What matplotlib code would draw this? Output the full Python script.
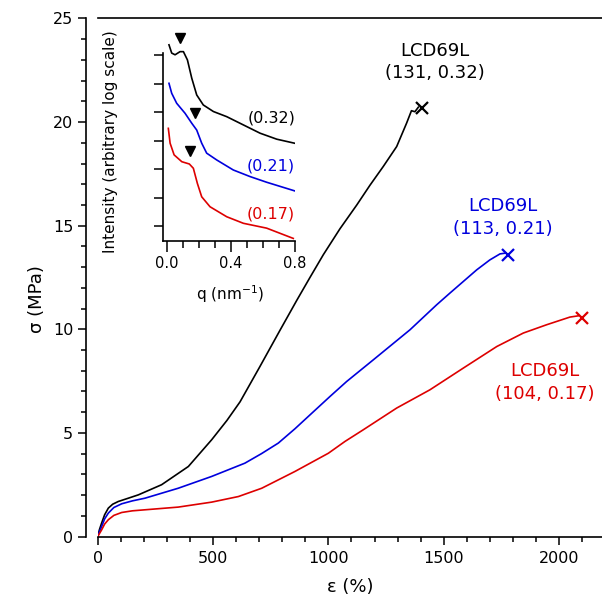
import matplotlib
matplotlib.use('Agg')
import matplotlib.pyplot as plt
from matplotlib.ticker import MultipleLocator

# stress-strain curves (strain in %, stress in MPa)
black_strain = [0, 8, 17, 30, 46, 65, 89, 130, 176, 277, 393, 494, 560, 617, 703, 790, 863, 920,
                978, 1050, 1123, 1180, 1238, 1296, 1339, 1360, 1375, 1390]
black_stress = [0, 0.35, 0.65, 1.05, 1.37, 1.56, 1.69, 1.84, 2.01, 2.50, 3.38, 4.67, 5.6, 6.5, 8.2,
                9.95, 11.4, 12.5, 13.6, 14.85, 16.0, 16.95, 17.86, 18.82, 19.95, 20.55, 20.50, 20.72]
blue_strain = [0, 8, 17, 30, 46, 70, 104, 150, 205, 349, 494, 638, 710, 783, 855, 928, 1007, 1079,
               1195, 1354, 1469, 1527, 1585, 1643, 1700, 1744, 1770]
blue_stress = [0, 0.25, 0.48, 0.85, 1.13, 1.40, 1.58, 1.72, 1.85, 2.33, 2.90, 3.54, 4.0, 4.51, 5.2,
               5.95, 6.76, 7.48, 8.53, 9.98, 11.18, 11.75, 12.31, 12.87, 13.35, 13.64, 13.68]
red_strain = [0, 8, 17, 30, 46, 70, 104, 150, 205, 349, 494, 610, 711, 855, 1000, 1072, 1151,
              1296, 1440, 1585, 1730, 1845, 1946, 2047, 2083]
red_stress = [0, 0.15, 0.32, 0.60, 0.81, 1.02, 1.16, 1.24, 1.29, 1.42, 1.66, 1.93, 2.33, 3.14,
              4.02, 4.59, 5.15, 6.20, 7.08, 8.13, 9.17, 9.82, 10.22, 10.59, 10.65]

# break points (x markers)
break_strain = [1404, 1780, 2100]
break_stress = [20.69, 13.6, 10.54]

labels = ['LCD69L\n(131, 0.32)', 'LCD69L\n(113, 0.21)', 'LCD69L\n(104, 0.17)']
label_x = [1461, 1756, 1938]
label_y = [22.9, 15.4, 7.45]

# inset SAXS profiles (log intensity, arbitrary offsets)
q_black = [0.014, 0.031, 0.052, 0.083, 0.104, 0.129, 0.156, 0.187, 0.228, 0.291, 0.374, 0.478,
           0.582, 0.686, 0.796]
i_black = [6.87, 6.58, 6.52, 6.63, 6.63, 6.34, 5.70, 5.11, 4.76, 4.53, 4.35, 4.06, 3.77, 3.56, 3.42]
q_blue = [0.014, 0.031, 0.062, 0.114, 0.156, 0.187, 0.218, 0.249, 0.312, 0.415, 0.519, 0.623, 0.796]
i_blue = [5.52, 5.17, 4.82, 4.47, 4.12, 3.88, 3.42, 3.07, 2.83, 2.48, 2.25, 2.05, 1.75]
q_red = [0.010, 0.021, 0.046, 0.094, 0.141, 0.166, 0.191, 0.218, 0.270, 0.374, 0.478, 0.623, 0.789]
i_red = [3.94, 3.42, 3.01, 2.77, 2.69, 2.54, 2.01, 1.54, 1.19, 0.84, 0.61, 0.44, 0.08]

peak_q = [0.083, 0.176, 0.145]
peak_i = [7.10, 4.47, 3.16]
inset_labels = ['(0.32)', '(0.21)', '(0.17)']
inset_label_y = [4.3, 2.62, 0.93]

colors = ['black', '#0000dd', '#dd0000']

fig = plt.figure(figsize=(6.02, 5.98), dpi=100)
ax = fig.add_axes([0.1623, 0.1028, 0.8377, 0.8663])

curves = [(black_strain, black_stress), (blue_strain, blue_stress), (red_strain, red_stress)]
for (x, y), c in zip(curves, colors):
    ax.plot(x, y, color=c, lw=1.2)
for i, c in enumerate(colors):
    ax.plot(break_strain[i], break_stress[i], 'x', color=c, ms=9, mew=1.6)
    ax.text(label_x[i], label_y[i], labels[i], color=c, fontsize=13, ha='center', va='center',
            linespacing=1.35)

ax.set_xlim(0, 2186)
ax.set_ylim(0, 25)
ax.xaxis.set_major_locator(MultipleLocator(500))
ax.xaxis.set_minor_locator(MultipleLocator(100))
ax.yaxis.set_major_locator(MultipleLocator(5))
ax.yaxis.set_minor_locator(MultipleLocator(1))
ax.tick_params(which='major', length=5.5, width=1.1, labelsize=11.5)
ax.tick_params(which='minor', length=3.5, width=1.1)
ax.tick_params(axis='x', pad=5)
ax.spines['right'].set_visible(False)
ax.spines['left'].set_position(('outward', 8.6))
for s in ['left', 'top', 'bottom']:
    ax.spines[s].set_linewidth(1.2)
ax.set_xlabel('ε (%)', fontsize=13)
ax.set_ylabel('σ (MPa)', fontsize=13)
ax.yaxis.set_label_coords(46 / 602, 1 - 299 / 598, transform=fig.transFigure)
ax.xaxis.set_label_coords(350 / 602, 1 - 578 / 598, transform=fig.transFigure)

# inset
ins = fig.add_axes([0.2703, 0.5975, 0.2198, 0.3557])
for q, inten, c in zip([q_black, q_blue, q_red], [i_black, i_blue, i_red], colors):
    ins.plot(q, inten, color=c, lw=1.2)
ins.plot(peak_q, peak_i, 'v', color='black', ms=7)
for lab, yy, c in zip(inset_labels, inset_label_y, colors):
    ins.text(0.8, yy, lab, color=c, fontsize=11.5, ha='right', va='center')
ins.set_xlim(-0.025, 0.8)
ins.set_ylim(0, 7.46)
ins.set_xticks([0.0, 0.4, 0.8])
ins.set_xticklabels(['0.0', '0.4', '0.8'])
ins.xaxis.set_minor_locator(MultipleLocator(0.1))
ins.set_yticks([0.5, 1.5, 2.5, 3.5, 4.5, 5.5, 6.5])
ins.set_yticklabels([])
ins.tick_params(axis='x', which='major', length=8, width=1.1, labelsize=10.5, pad=3)
ins.tick_params(axis='x', which='minor', length=5, width=1.1)
ins.tick_params(axis='y', length=6.5, width=1.1)
ins.spines['top'].set_visible(False)
ins.spines['right'].set_visible(False)
ins.spines['left'].set_bounds(0, 6.6)
ins.spines['left'].set_linewidth(1.2)
ins.spines['bottom'].set_linewidth(1.2)
ins.patch.set_alpha(0)
ins.set_xlabel('q (nm$^{-1}$)', fontsize=11)
ins.xaxis.set_label_coords(230 / 602, 1 - 283 / 598, transform=fig.transFigure)
ins.set_ylabel('Intensity (arbitrary log scale)', fontsize=11)
ins.yaxis.set_label_coords(118 / 602, 1 - 141.5 / 598, transform=fig.transFigure)

fig.savefig('out.png', dpi=100)
